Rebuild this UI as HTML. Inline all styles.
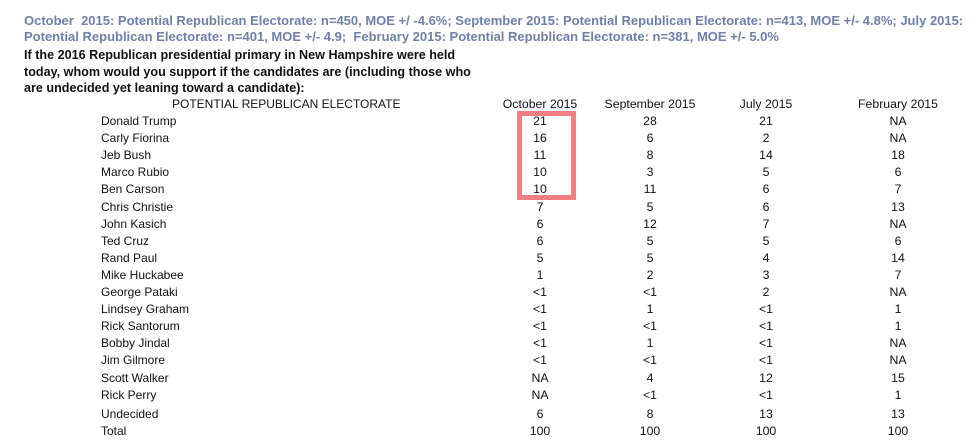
<!DOCTYPE html>
<html><head><meta charset="utf-8"><style>
body{margin:0;width:978px;height:447px;background:#fff;position:relative;overflow:hidden;font-family:"Liberation Sans",Arial,sans-serif;}
.t{position:absolute;white-space:nowrap;}
.blue{color:#6f80a8;font-weight:bold;font-size:13px;left:24px;}
.q{color:#111;font-weight:bold;font-size:12.6px;left:24px;}
.c{position:absolute;font-size:12.3px;color:#111;text-align:center;width:120px;margin-left:-60px;line-height:14px;}
.n{position:absolute;font-size:12px;color:#111;left:101px;line-height:14px;}
</style></head><body>
<div class="t blue" style="top:13px">October&nbsp; 2015: Potential Republican Electorate: n=450, MOE +/ -4.6%; September 2015: Potential Republican Electorate: n=413, MOE +/- 4.8%; July 2015:</div>
<div class="t blue" style="top:29px">Potential Republican Electorate: n=401, MOE +/- 4.9;&nbsp; February 2015: Potential Republican Electorate: n=381, MOE +/- 5.0%</div>
<div class="t q" style="top:48px">If the 2016 Republican presidential primary in New Hampshire were held</div>
<div class="t q" style="top:65px">today, whom would you support if the candidates are (including those who</div>
<div class="t q" style="top:81px">are undecided yet leaning toward a candidate):</div>
<div class="t" style="top:97px;left:172px;font-size:12px;color:#111">POTENTIAL REPUBLICAN ELECTORATE</div>
<div id="tbl"></div>
<div style="position:absolute;left:517px;top:111px;width:49px;height:79px;border:5px solid #f07f84;"></div>
<script>
const columns=["October 2015","September 2015","July 2015","February 2015"];
const candidates=["Donald Trump","Carly Fiorina","Jeb Bush","Marco Rubio","Ben Carson","Chris Christie","John Kasich","Ted Cruz","Rand Paul","Mike Huckabee","George Pataki","Lindsey Graham","Rick Santorum","Bobby Jindal","Jim Gilmore","Scott Walker","Rick Perry","Undecided","Total"];
const oct=["21","16","11","10","10","7","6","6","5","1","<1","<1","<1","<1","<1","NA","NA","6","100"];
const sep=["28","6","8","3","11","5","12","5","5","2","<1","1","<1","1","<1","4","<1","8","100"];
const jul=["21","2","14","5","6","6","7","5","4","3","2","<1","<1","<1","<1","12","<1","13","100"];
const feb=["NA","NA","18","6","7","13","NA","6","14","7","NA","1","1","NA","NA","15","1","13","100"];
const series=[oct,sep,jul,feb];
const colX=[540,650,766,898];
const tbl=document.getElementById('tbl');
function rowY(i){return 114+i*17.1+(i>=17?2:0);}
columns.forEach((c,j)=>{
  const d=document.createElement('div');d.className='c';
  
  
  d.style.left=colX[j]+'px';d.style.top='97px';d.textContent=c;tbl.appendChild(d);
});
candidates.forEach((name,i)=>{
  const n=document.createElement('div');n.className='n';
  
  
  n.style.top=rowY(i)+'px';n.textContent=name;tbl.appendChild(n);
  series.forEach((s,j)=>{
    const d=document.createElement('div');d.className='c';
    
    
    d.style.left=colX[j]+'px';d.style.top=rowY(i)+'px';d.textContent=s[i];tbl.appendChild(d);
  });
});
</script>
</body></html>
